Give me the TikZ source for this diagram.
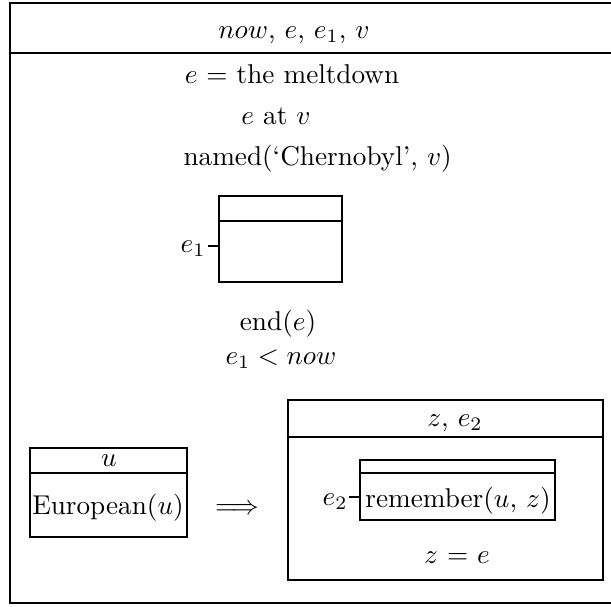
\documentclass[tikz,border=0pt]{standalone}
\usetikzlibrary{fit}
\begin{document}
\begin{tikzpicture}[x=0.3675pt,y=-0.3675pt,
  box/.style={draw,line width=0.9pt,inner sep=0pt,fit=#1},
  txt/.style={inner sep=0pt,anchor=base},
  rule/.style={line width=0.9pt},
  tick/.style={line width=0.9pt}]
\useasboundingbox (0,0) rectangle (611,606);
% outer box
\coordinate (otl) at (10,3);
\coordinate (obr) at (615,603);
\node[box={(otl)(obr)}] (outer) {};
\draw[rule] (outer.west |- 0,53) -- (outer.east |- 0,53);
\node[txt] (hdr) at (294,38) {$now$, $e$, $e_1$, $v$};
\node[txt] (c1) at (292,83) {$e$ = the meltdown};
\node[txt] (c2) at (276,124) {$e$ at $v$};
\node[txt,anchor=base west] (c3) at (183,165) {named(`Chernobyl', $v$)};
% e1 box
\coordinate (atl) at (219,196);
\coordinate (abr) at (342,282);
\node[box={(atl)(abr)}] (e1box) {};
\draw[rule] (e1box.west |- 0,221) -- (e1box.east |- 0,221);
\node[txt,anchor=base east] (e1lab) at (206,252) {$e_1$};
\coordinate (t1) at (208,246);
\draw[tick] (t1) -- (t1 -| e1box.west);
\node[txt] (c4) at (278,330) {end($e$)};
\node[txt] (c5) at (281,364) {$e_1 < now$};
% u box
\coordinate (btl) at (30,448);
\coordinate (bbr) at (187,537);
\node[box={(btl)(bbr)}] (ubox) {};
\draw[rule] (ubox.west |- 0,473) -- (ubox.east |- 0,473);
\node[txt] (uvar) at (109,466) {$u$};
\node[txt] (eur) at (108,514) {European($u$)};
\node[txt] (impl) at (237,514) {$\Longrightarrow$};
% z e2 box
\coordinate (ctl) at (288,400);
\coordinate (cbr) at (603,580);
\node[box={(ctl)(cbr)}] (zbox) {};
\draw[rule] (zbox.west |- 0,437) -- (zbox.east |- 0,437);
\node[txt] (zvar) at (455,426) {$z$, $e_2$};
% inner remember box
\coordinate (dtl) at (360,460);
\coordinate (dbr) at (555,520);
\node[box={(dtl)(dbr)}] (rbox) {};
\draw[rule] (rbox.west |- 0,473) -- (rbox.east |- 0,473);
\node[txt] (rem) at (458,507) {remember($u$, $z$)};
\node[txt,anchor=base east] (e2lab) at (348,505) {$e_2$};
\coordinate (t2) at (349,497);
\draw[tick] (t2) -- (t2 -| rbox.west);
\node[txt] (zeq) at (457,563) {$z$ = $e$};
\end{tikzpicture}
\end{document}
